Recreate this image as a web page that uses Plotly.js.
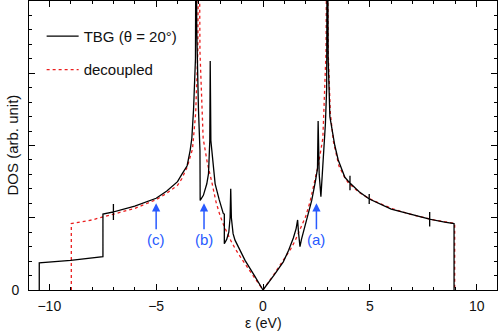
<!DOCTYPE html>
<html>
<head>
<meta charset="utf-8">
<script src="https://cdn.plot.ly/plotly-3.0.1.min.js"></script>
<style>
  html, body { margin: 0; padding: 0; background: #fff; }
  #plot { width: 498px; height: 332px; }
</style>
</head>
<body>
<div id="plot"></div>
<script>
// TBG (theta = 20 deg) DOS
var tbgE = [-10.47, -10.47, -9.0, -8.24, -7.49, -7.49, -7.0, -7.0, -7.0, -7.0, -6.0, -5.28, -5.0, -4.5, -4.0, -3.8, -3.55, -3.41, -3.33, -3.25, -3.16, -3.13,
            -3.1, -3.02, -2.95, -2.94, -2.79, -2.63, -2.55, -2.49, -2.47, -2.44, -2.35, -2.24, -2.05, -1.86, -1.81, -1.81, -1.7, -1.6, -1.54, -1.51,
            -1.48, -1.4, -1.31, -0.84, -0.4, 0.0, 0.5, 0.95, 1.2, 1.42, 1.55, 1.62, 1.66, 1.73, 1.8, 1.96, 2.1, 2.28, 2.45, 2.55, 2.58, 2.63, 2.71,
            2.82, 2.92, 2.98, 3.01, 3.05, 3.13, 3.36, 3.52, 3.83, 4.07, 4.07, 4.07, 4.07, 4.5, 4.97, 4.97, 4.97, 4.97, 6.0, 7.0, 7.8, 7.8, 7.8, 7.8,
            8.5, 8.94, 8.94];
var tbgDos = [0, 0.377, 0.41, 0.44, 0.46, 1.05, 1.08, 1.19, 0.97, 1.08, 1.16, 1.24, 1.27, 1.37, 1.5, 1.6, 1.72, 1.93, 2.1, 2.5, 3.2, 6.0,
              3.6, 2.5, 1.93, 1.24, 1.31, 1.47, 1.61, 2.07, 3.17, 2.07, 1.75, 1.47, 1.25, 1.06, 1.05, 0.64, 0.7, 0.8, 1.0, 1.4,
              1.0, 0.78, 0.69, 0.41, 0.2, 0, 0.2, 0.39, 0.55, 0.72, 0.85, 0.97, 0.8, 0.6, 0.7, 0.87, 1.03, 1.24, 1.5, 1.68, 2.34, 1.6, 1.29,
              1.79, 2.3, 2.8, 6.0, 3.2, 2.4, 2.0, 1.8, 1.56, 1.48, 1.58, 1.38, 1.48, 1.36, 1.26, 1.33, 1.19, 1.26, 1.12, 1.04, 0.98, 1.08, 0.88, 0.98,
              0.94, 0.92, 0];

// decoupled bilayer DOS
var decE = [-8.97, -8.97, -8.0, -7.5, -7.0, -6.0, -5.0, -4.5, -4.0, -3.8, -3.55, -3.3, -3.15, -3.05, -3.0, -2.95, -2.8, -2.6, -2.4, -2.2, -2.0, -1.8,
            -1.5, -1.3, -1.0, -0.5, 0.0, 0.5, 1.0, 1.3, 1.5, 1.8, 2.0, 2.2, 2.4, 2.6, 2.8, 2.95, 3.0, 3.05, 3.15, 3.3, 3.55, 3.8, 4.0, 4.5, 5.0,
            6.0, 7.0, 7.5, 8.0, 8.97, 8.97];
var decDos = [0, 0.92, 0.97, 1.01, 1.05, 1.13, 1.25, 1.34, 1.45, 1.54, 1.7, 1.95, 2.45, 3.3, 6.0, 3.3, 2.1, 1.75, 1.5, 1.22, 1.02, 0.87,
              0.68, 0.57, 0.43, 0.21, 0, 0.21, 0.43, 0.57, 0.68, 0.87, 1.02, 1.22, 1.5, 1.75, 2.1, 3.3, 6.0, 3.3, 2.45, 2.05, 1.72, 1.57, 1.48, 1.35, 1.26,
              1.13, 1.04, 1.0, 0.97, 0.92, 0];

// arrows (a), (b), (c)
var arrowLabels = ['(c)', '(b)', '(a)'];
var arrowE = [-5.0, -2.76, 2.5];
var arrowDos = [1.2, 1.2, 1.2];

var blue = 'rgb(40,90,255)';
var fnt = 'Liberation Sans, Arial, Helvetica, sans-serif';

var decTrace = {
  type: 'scatter', mode: 'lines', name: 'decoupled',
  x: decE, y: decDos, legendgroup: 'dec', legendrank: 2,
  line: {color: 'rgb(235,30,30)', width: 1.3, dash: 'dot'}
};
var tbgTrace = {
  type: 'scatter', mode: 'lines', name: 'TBG (θ = 20°)',
  x: tbgE, y: tbgDos, legendgroup: 'tbg', legendrank: 1,
  line: {color: 'black', width: 1.3}
};

var annotations = arrowLabels.map(function (lab, i) {
  return {
    x: arrowE[i], y: arrowDos[i], xref: 'x', yref: 'y',
    text: lab, showarrow: true, arrowhead: 2, arrowsize: 1.1, arrowwidth: 1.5,
    arrowcolor: blue, ax: 0, ay: 36, standoff: 0, font: {family: fnt, size: 15, color: blue}
  };
});
annotations.push({
  xref: 'paper', yref: 'paper', x: 0, y: 0.5, xanchor: 'center', yanchor: 'middle',
  xshift: -17, textangle: -90,
  text: 'DOS (arb. unit)', showarrow: false, font: {family: fnt, size: 15, color: '#111'}
});
annotations.push({
  xref: 'paper', yref: 'paper', x: 0.5, y: 0, xanchor: 'center', yanchor: 'middle', yshift: -33,
  text: 'ε (eV)', showarrow: false, font: {family: fnt, size: 14, color: '#111'}
});

var layout = {
  width: 498, height: 332,
  margin: {l: 29, r: 1, t: 1, b: 42},
  paper_bgcolor: 'white', plot_bgcolor: 'white',
  font: {family: fnt, size: 14, color: '#111'},
  showlegend: true,
  legend: {
    x: 0.027, y: 0.935, xanchor: 'left', yanchor: 'top',
    bgcolor: 'rgba(0,0,0,0)', font: {family: fnt, size: 15, color: '#111'},
    traceorder: 'grouped', tracegroupgap: 11, itemwidth: 32
  },
  xaxis: {
    range: [-10.95, 10.95], showgrid: false, zeroline: false,
    showline: true, linecolor: 'black', linewidth: 1, mirror: 'ticks',
    ticks: 'inside', ticklen: 6, tickcolor: 'black', dtick: 5, tick0: 0,
    ticklabelstandoff: 3,
    minor: {dtick: 1, ticks: 'inside', ticklen: 3, tickcolor: 'black', showgrid: false}
  },
  yaxis: {
    range: [0, 4], showgrid: false, zeroline: false,
    showline: true, linecolor: 'black', linewidth: 1, mirror: 'ticks',
    ticks: 'inside', ticklen: 6, tickcolor: 'black',
    tickmode: 'array', tickvals: [0, 1, 2, 3, 4], ticktext: ['0', '', '', '', ''],
    ticklabelstandoff: 6,
    minor: {dtick: 0.2, ticks: 'inside', ticklen: 3, tickcolor: 'black', showgrid: false}
  },
  annotations: annotations
};

Plotly.newPlot('plot', [decTrace, tbgTrace], layout, {staticPlot: true});
</script>
</body>
</html>
